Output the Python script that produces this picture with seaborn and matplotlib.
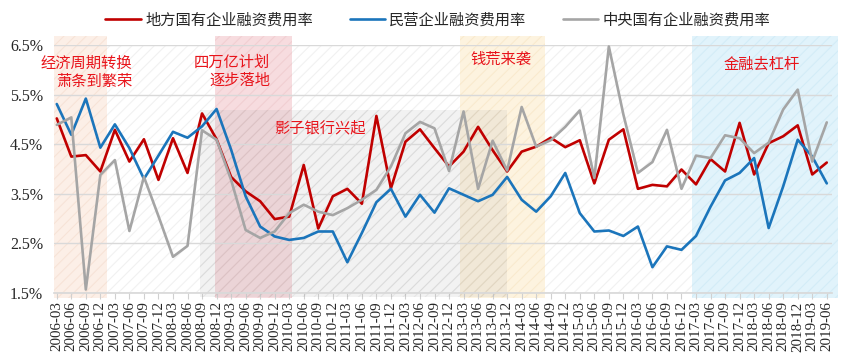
import matplotlib
matplotlib.use("Agg")
import matplotlib.pyplot as plt
from matplotlib.patches import Rectangle
import matplotlib.transforms as mtransforms
import numpy as np
import pandas as pd
import seaborn as sns

# ---------------- data ----------------
quarters = [f"{y}-{m:02d}" for y in range(2006, 2020) for m in (3, 6, 9, 12)][:54]

local_soe = [5.02, 4.25, 4.28, 3.95, 4.79, 4.15, 4.60, 3.78, 4.62, 3.92,
             5.12, 4.60, 3.84, 3.55, 3.35, 2.99, 3.04, 4.08, 2.80, 3.45,
             3.60, 3.30, 5.07, 3.61, 4.55, 4.80, 4.42, 4.05, 4.35, 4.85,
             4.38, 3.95, 4.35, 4.45, 4.63, 4.44, 4.58, 3.71, 4.59, 4.80,
             3.60, 3.68, 3.65, 3.99, 3.69, 4.20, 3.95, 4.93, 3.89, 4.52,
             4.66, 4.88, 3.89, 4.13]

private = [5.31, 4.69, 5.42, 4.43, 4.90, 4.42, 3.80, 4.27, 4.75, 4.63,
           4.86, 5.21, 4.39, 3.45, 2.84, 2.64, 2.57, 2.61, 2.74, 2.74,
           2.12, 2.71, 3.33, 3.60, 3.04, 3.48, 3.12, 3.61, 3.48, 3.35,
           3.48, 3.84, 3.38, 3.14, 3.45, 3.92, 3.11, 2.74, 2.76, 2.65,
           2.84, 2.02, 2.44, 2.37, 2.65, 3.24, 3.77, 3.92, 4.22, 2.81,
           3.65, 4.59, 4.25, 3.71]

central_soe = [4.89, 5.04, 1.57, 3.88, 4.18, 2.75, 3.84, 3.05, 2.23, 2.45,
               4.78, 4.59, 3.78, 2.77, 2.61, 2.74, 3.11, 3.28, 3.14, 3.07,
               3.21, 3.38, 3.58, 4.05, 4.72, 4.95, 4.82, 3.96, 5.16, 3.60,
               4.57, 3.97, 5.25, 4.45, 4.58, 4.85, 5.18, 3.82, 6.47, 5.10,
               3.92, 4.14, 4.79, 3.60, 4.27, 4.22, 4.68, 4.62, 4.32, 4.53,
               5.20, 5.60, 4.15, 4.94]

series_names = ["地方国有企业融资费用率", "民营企业融资费用率", "中央国有企业融资费用率"]
series_colors = ["#C00000", "#1B75BB", "#A5A5A5"]

yticks = [1.5, 2.5, 3.5, 4.5, 5.5, 6.5]

# highlighted periods: (start index, end index, fill, hatch colour)
periods = [
    (-0.2, 3.45, "#FCEFE7", "#F7E3D7"),
    (10.9, 16.2, "#F7DCDF", "#F1CFD2"),
    (27.75, 33.6, "#FDF3DF", "#F9EACE"),
    (43.7, 53.75, "#E1F3FB", "#D3ECF7"),
]
shadow = (9.85, 31.0, "影子银行兴起")

# ---------------- style ----------------
sns.set_theme(style="white")
plt.rcParams["font.family"] = ["Noto Sans CJK SC", "DejaVu Sans"]
plt.rcParams["hatch.linewidth"] = 0.8

W, H = 850, 364
fig = plt.figure(figsize=(W / 100, H / 100), dpi=100)
L, R, T, B = 54, 832, 45, 293
ax = fig.add_axes([L / W, (H - B) / H, (R - L) / W, (B - T) / H])

x = np.arange(len(quarters))
df = pd.DataFrame({"pos": x, series_names[0]: local_soe,
                   series_names[1]: private, series_names[2]: central_soe})
long_df = df.melt(id_vars="pos", var_name="series", value_name="rate")

# background hatch
ax.add_patch(Rectangle((0, 0), 1, 1, transform=ax.transAxes, facecolor="white",
                       edgecolor="#F1F1F1", hatch="///", lw=0, zorder=0))

trans = mtransforms.blended_transform_factory(ax.transData, ax.transAxes)
ybot = -(298 - B) / (B - T)
ytop = (B - 36) / (B - T)
for x0, x1, fc, hc in periods:
    ax.add_patch(Rectangle((x0, ybot), x1 - x0, ytop - ybot, transform=trans,
                           facecolor=fc, edgecolor=hc, hatch="///", lw=0,
                           zorder=0.5, clip_on=False))
# shadow banking box (semi transparent grey)
ax.add_patch(Rectangle((shadow[0], 1.42), shadow[1] - shadow[0], 5.19 - 1.42,
                       facecolor="#A8A8A8", edgecolor="#999999", alpha=0.14,
                       hatch="///", lw=0, zorder=0.6, clip_on=False))

for yv in yticks:
    ax.axhline(yv, color="#D9D9D9", lw=1.0, zorder=1)

sns.lineplot(data=long_df, x="pos", y="rate", hue="series",
             hue_order=series_names, palette=series_colors, linewidth=1.9,
             ax=ax, zorder=3, legend=True)
handles, labels = ax.get_legend_handles_labels()
ax.get_legend().remove()
for ln in ax.lines:
    ln.set_solid_joinstyle("round")
    ln.set_solid_capstyle("round")

ax.set_xlim(-0.19, 53.36)
ax.set_ylim(1.5, 6.5)
ax.set_yticks(yticks)
ax.set_yticklabels([f"{v:.1f}%" for v in yticks], family="Liberation Serif",
                   fontsize=11.5)
ax.set_xticks(x)
ax.set_xticklabels(quarters, rotation=90, family="Liberation Serif",
                   fontsize=10.8)
ax.set_xlabel("")
ax.set_ylabel("")
for s in ["left", "right", "top"]:
    ax.spines[s].set_visible(False)
ax.spines["bottom"].set_color("#D9D9D9")
ax.spines["bottom"].set_zorder(2)
ax.tick_params(axis="x", direction="out", length=4, color="#D0D0D0",
               width=0.8, pad=2, bottom=True)
ax.tick_params(axis="y", length=0, pad=8)
ax.grid(False)

# annotations (pixel positions converted to figure fraction)
def ftext(px, py, s, ha):
    fig.text(px / W, (H - py) / H, s, ha=ha, va="center", color="#E8141B",
             fontsize=11)

ftext(132, 63, "经济周期转换", "right")
ftext(132, 81, "萧条到繁荣", "right")
ftext(270, 62, "四万亿计划", "right")
ftext(270, 80, "逐步落地", "right")
ftext(320, 128, shadow[2], "center")
ftext(501, 59, "钱荒来袭", "center")
ftext(762, 64, "金融去杠杆", "center")

fig.legend(handles, labels, loc="center", bbox_to_anchor=(438 / W, (H - 20) / H),
           ncol=3, frameon=False, fontsize=11, handlelength=2.3,
           handletextpad=0.3, columnspacing=2.4)

fig.savefig("out.png", dpi=100)
